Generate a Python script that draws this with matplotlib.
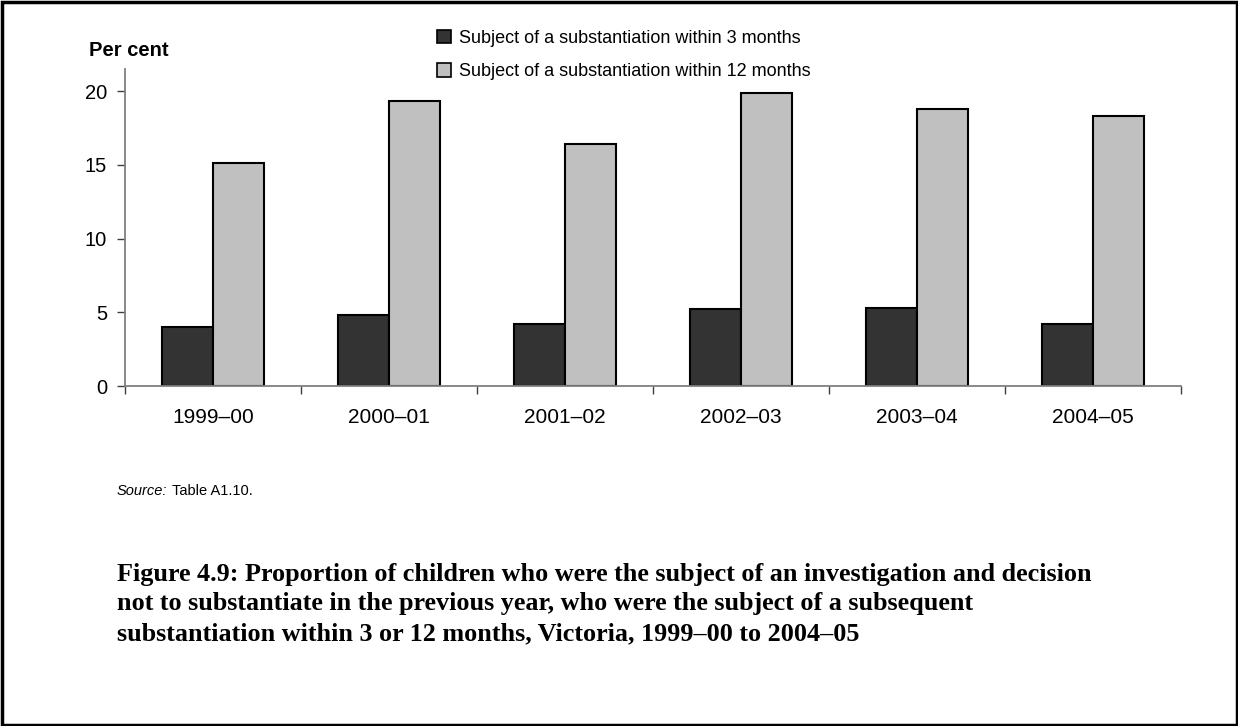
import numpy as np
import matplotlib.pyplot as plt
from matplotlib.patches import Patch, Rectangle

years = ['1999–00', '2000–01', '2001–02', '2002–03', '2003–04', '2004–05']
within_3 = [4.0, 4.8, 4.2, 5.2, 5.3, 4.2]
within_12 = [15.1, 19.3, 16.4, 19.9, 18.8, 18.3]
series_names = ['Subject of a substantiation within 3 months',
                'Subject of a substantiation within 12 months']

plt.rcParams['font.family'] = ['Liberation Sans', 'DejaVu Sans']

W, H = 1238, 726
fig = plt.figure(figsize=(W / 100, H / 100), dpi=100)
ax = fig.add_axes([125 / W, 1 - 386 / H, (1181 - 125) / W, (386 - 69) / H])

x = np.arange(len(years))
bw = 0.29
ax.bar(x - bw / 2, within_3, bw, color='#333333', edgecolor='black', linewidth=1.5)
ax.bar(x + bw / 2, within_12, bw, color='#c0c0c0', edgecolor='black', linewidth=1.5)

ax.set_xlim(-0.5, len(years) - 0.5)
ax.set_ylim(0, 21.5)
ax.set_yticks([0, 5, 10, 15, 20])
ax.tick_params(axis='y', direction='out', length=6, width=1, labelsize=14.5, pad=7, color='#404040')
ax.set_xticks(x)
ax.set_xticklabels(years)
ax.set_xticks(np.arange(-0.5, len(years)), minor=True)
ax.tick_params(axis='x', which='major', length=0, labelsize=15, pad=16)
ax.tick_params(axis='x', which='minor', direction='out', length=6, width=1, color='#404040')

for s in ['top', 'right']:
    ax.spines[s].set_visible(False)
for s in ['left', 'bottom']:
    ax.spines[s].set_color('#808080')
    ax.spines[s].set_linewidth(1.3)

fig.text(89 / W, 1 - 51 / H, 'Per cent', fontsize=14.5, fontweight='bold', va='center')

handles = [Patch(facecolor='#333333', edgecolor='black', linewidth=1.2),
           Patch(facecolor='#c0c0c0', edgecolor='black', linewidth=1.2)]
fig.legend(handles, series_names, loc='upper left', bbox_to_anchor=(437 / W, 1 - 30 / H),
           frameon=False, fontsize=13, handlelength=0.75, handleheight=0.75,
           handletextpad=0.45, labelspacing=0.9, borderpad=0, borderaxespad=0)

# source note: italic label followed by regular text
r = fig.canvas.get_renderer()
src = fig.text(117 / W, 1 - 491 / H, 'Source:', fontsize=10.5, style='italic', va='center')
bb = src.get_window_extent(renderer=r)
fig.text((bb.x1 + 4) / W, 1 - 491 / H, 'Table A1.10.', fontsize=10.5, va='center')

caption = ('Figure 4.9: Proportion of children who were the subject of an investigation and decision\n'
           'not to substantiate in the previous year, who were the subject of a subsequent\n'
           'substantiation within 3 or 12 months, Victoria, 1999–00 to 2004–05')
fig.text(117 / W, 1 - 563 / H, caption, fontsize=18.8, fontweight='bold', va='top',
         family=['Liberation Serif', 'DejaVu Serif'], linespacing=1.36)

fig.add_artist(Rectangle((1.5 / W, 1.5 / H), (W - 3) / W, (H - 3) / H, transform=fig.transFigure,
                         fill=False, edgecolor='black', linewidth=2.5))

fig.savefig('out.png', dpi=100)
